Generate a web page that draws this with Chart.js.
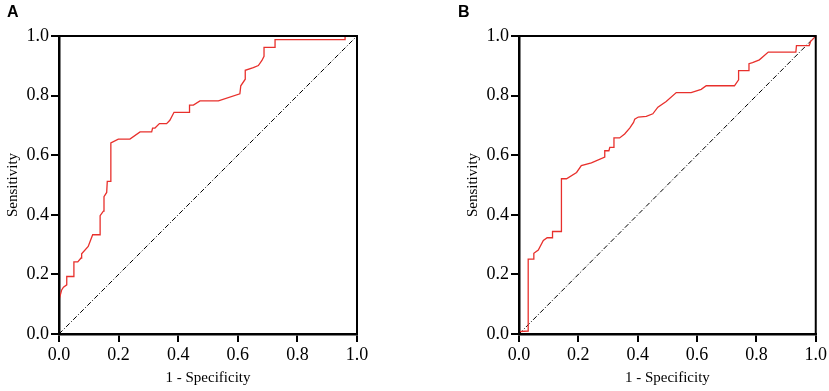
<!DOCTYPE html>
<html>
<head>
<meta charset="utf-8">
<script src="https://cdn.jsdelivr.net/npm/chart.js@4.4.0/dist/chart.umd.min.js"></script>
<style>
  body { margin: 0; background: #fff; width: 829px; height: 391px; overflow: hidden; position: relative; }
  .panel { position: absolute; top: 0; height: 391px; }
  .tag { position: absolute; top: 3px; font: bold 16px "Liberation Sans", Arial, sans-serif; color: #000; }
</style>
</head>
<body>
<div class="panel" style="left:0;width:410px"><canvas id="rocA" width="410" height="391"></canvas></div>
<div class="panel" style="left:410px;width:419px"><canvas id="rocB" width="419" height="391"></canvas></div>
<div class="tag" style="left:7px">A</div>
<div class="tag" style="left:458px">B</div>
<script>
// panel A curve (1 - specificity, sensitivity)
var aFpr = [0, 0, 0.009, 0.015, 0.026, 0.026, 0.050, 0.050, 0.063, 0.074, 0.076, 0.098, 0.113, 0.138, 0.138, 0.149, 0.151, 0.160, 0.162, 0.174, 0.174, 0.199, 0.238, 0.272, 0.311, 0.314, 0.322, 0.337, 0.361, 0.372, 0.386, 0.438, 0.438, 0.451, 0.473, 0.535, 0.607, 0.610, 0.625, 0.625, 0.652, 0.669, 0.681, 0.688, 0.688, 0.725, 0.725, 0.960, 0.960, 1];
var aTpr = [0, 0.114, 0.148, 0.157, 0.165, 0.193, 0.193, 0.242, 0.242, 0.255, 0.269, 0.294, 0.333, 0.333, 0.397, 0.412, 0.461, 0.475, 0.512, 0.512, 0.641, 0.654, 0.654, 0.678, 0.678, 0.691, 0.691, 0.706, 0.706, 0.717, 0.744, 0.744, 0.768, 0.768, 0.782, 0.782, 0.806, 0.833, 0.855, 0.885, 0.894, 0.901, 0.918, 0.932, 0.962, 0.962, 0.988, 0.988, 1.0, 1];

// panel B curve
var bFpr = [0, 0, 0.031, 0.031, 0.048, 0.050, 0.065, 0.082, 0.095, 0.113, 0.113, 0.143, 0.143, 0.160, 0.194, 0.210, 0.244, 0.289, 0.289, 0.303, 0.306, 0.319, 0.320, 0.339, 0.356, 0.373, 0.386, 0.390, 0.402, 0.429, 0.451, 0.468, 0.496, 0.530, 0.580, 0.614, 0.631, 0.726, 0.740, 0.740, 0.773, 0.775, 0.787, 0.810, 0.823, 0.840, 0.933, 0.935, 0.978, 0.983, 0.998, 1];
var bTpr = [0, 0.008, 0.010, 0.251, 0.251, 0.271, 0.282, 0.314, 0.323, 0.323, 0.344, 0.344, 0.521, 0.521, 0.542, 0.565, 0.574, 0.594, 0.615, 0.615, 0.626, 0.626, 0.658, 0.658, 0.671, 0.691, 0.710, 0.721, 0.728, 0.730, 0.739, 0.761, 0.780, 0.810, 0.810, 0.821, 0.833, 0.833, 0.853, 0.884, 0.884, 0.907, 0.911, 0.920, 0.931, 0.946, 0.946, 0.968, 0.968, 0.982, 0.997, 1];

var refLine = [0, 1];
var tickVals = [0, 0.2, 0.4, 0.6, 0.8, 1.0];

var serif = '"Liberation Serif", "Times New Roman", serif';

function pts(xs, ys) {
    var out = [];
    for (var i = 0; i < xs.length; i++) out.push({x: xs[i], y: ys[i]});
    return out;
}

// box round the plot area
var frame = {
    id: 'frame',
    afterDraw: function(chart) {
        var a = chart.chartArea, c = chart.ctx;
        c.save();
        c.strokeStyle = '#000';
        c.lineWidth = 2;
        c.strokeRect(a.left, a.top, a.right - a.left, a.bottom - a.top);
        c.restore();
    }
};

function makeRoc(id, xs, ys, padLeft, padRight) {
    var axisBase = {
        type: 'linear', min: 0, max: 1,
        grid: { display: true, drawOnChartArea: false, drawTicks: true, tickLength: 8, color: '#000', lineWidth: 2 },
        border: { display: true, color: '#000', width: 2.5 },
        afterBuildTicks: function(s) { s.ticks = tickVals.map(function(v){ return {value: v}; }); },
        ticks: {
            color: '#000', padding: 2,
            font: { family: serif, size: 18 },
            callback: function(v) { return Number(v).toFixed(1); }
        }
    };
    var xAxis = Object.assign({}, axisBase, {
        position: 'bottom',
        title: { display: true, text: '1 - Specificity', color: '#000', font: { family: serif, size: 15 }, padding: { top: 2 } },
        afterFit: function(s) { s.height = 57; }
    });
    xAxis.ticks = Object.assign({}, axisBase.ticks, { maxRotation: 0 });
    var yAxis = Object.assign({}, axisBase, {
        position: 'left',
        title: { display: true, text: 'Sensitivity', color: '#000', font: { family: serif, size: 15 }, padding: { bottom: 0 } },
        afterFit: function(s) { s.width = 59; }
    });

    return new Chart(document.getElementById(id), {
        type: 'scatter',
        data: {
            datasets: [{
                data: pts(xs, ys),
                showLine: true,
                borderColor: '#e8302c',
                borderWidth: 1.3,
                pointRadius: 0,
                tension: 0,
                clip: 3
            }, {
                data: pts(refLine, refLine),
                showLine: true,
                borderColor: '#000',
                borderWidth: 1,
                borderDash: [5, 2, 1, 2],
                pointRadius: 0,
                clip: 3
            }]
        },
        options: {
            responsive: false,
            animation: false,
            layout: { padding: { left: padLeft, right: padRight, top: 36, bottom: 0 } },
            plugins: { legend: { display: false }, tooltip: { enabled: false } },
            scales: { x: xAxis, y: yAxis }
        },
        plugins: [frame]
    });
}

makeRoc('rocA', aFpr, aTpr, 0, 53);
makeRoc('rocB', bFpr, bTpr, 50, 12);
</script>
</body>
</html>
